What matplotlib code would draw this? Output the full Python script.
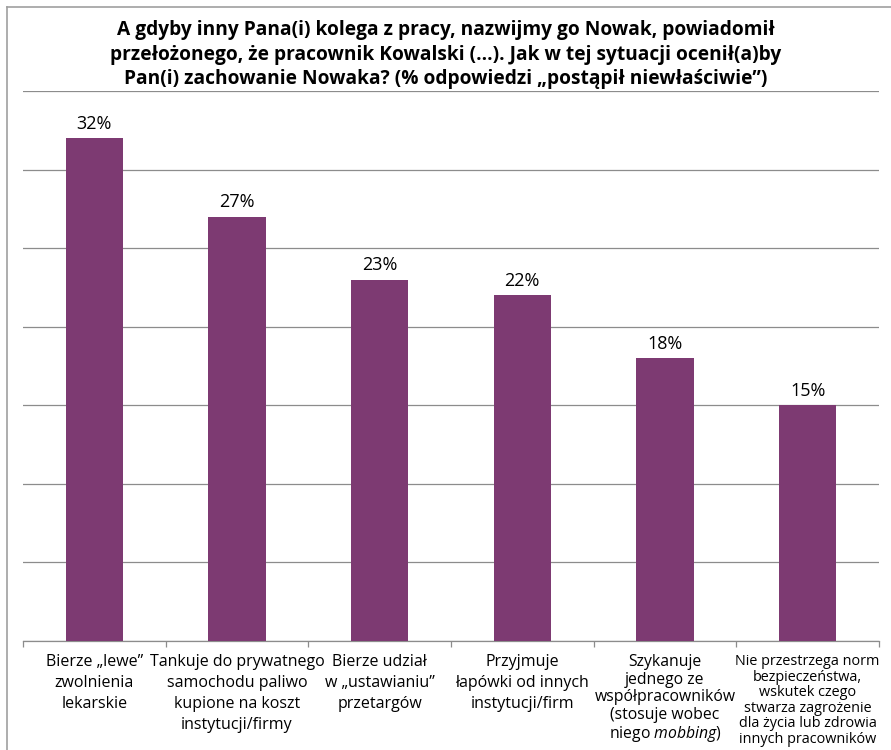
import matplotlib
matplotlib.use("Agg")
import matplotlib.pyplot as plt
from matplotlib.lines import Line2D
import matplotlib.transforms as mtransforms

plt.rcParams['font.family'] = ['Open Sans', 'DejaVu Sans']
plt.rcParams['mathtext.fontset'] = 'custom'
plt.rcParams['mathtext.it'] = 'Open Sans:italic'
plt.rcParams['mathtext.rm'] = 'Open Sans'

# dane
title = ("A gdyby inny Pana(i) kolega z pracy, nazwijmy go Nowak, powiadomił\n"
         "przełożonego, że pracownik Kowalski (...). Jak w tej sytuacji ocenił(a)by\n"
         "Pan(i) zachowanie Nowaka? (% odpowiedzi „postąpił niewłaściwie”)")
categories = [
    "Bierze „lewe”\nzwolnienia\nlekarskie",
    "Tankuje do prywatnego\nsamochodu paliwo\nkupione na koszt\ninstytucji/firmy",
    "Bierze udział\nw „ustawianiu”\nprzetargów",
    "Przyjmuje\nłapówki od innych\ninstytucji/firm",
    "Szykanuje\njednego ze\nwspółpracowników\n(stosuje wobec\nniego $\\mathit{mobbing}$)",
    "Nie przestrzega norm\nbezpieczeństwa,\nwskutek czego\nstwarza zagrożenie\ndla życia lub zdrowia\ninnych pracowników",
]
values = [32, 27, 23, 22, 18, 15]
label_sizes = [11.5, 11.5, 11.5, 11.5, 11.3, 10.4]
label_spacing = [1.4, 1.4, 1.4, 1.4, 1.12, 1.05]

bar_color = "#7D3A72"
grid_color = "#8C8C8C"

fig = plt.figure(figsize=(8.91, 7.5), dpi=100)
ax = fig.add_axes([0.0258, 0.1453, 0.9607, 0.7334])

x = list(range(len(values)))
ax.bar(x, values, width=0.4, color=bar_color, zorder=3)
for xi, v in zip(x, values):
    ax.text(xi, v + 0.35, f"{v}%", ha="center", va="bottom", fontsize=13, color="#000000")

ax.set_xlim(-0.5, len(values) - 0.5)
ax.set_ylim(0, 35)
ax.set_yticks(range(0, 36, 5))
ax.yaxis.grid(True, color=grid_color, linewidth=0.9, zorder=0)
ax.tick_params(axis="y", left=False, labelleft=False)
for s in ["top", "right", "left"]:
    ax.spines[s].set_visible(False)
ax.spines["bottom"].set_color(grid_color)
ax.spines["bottom"].set_linewidth(0.9)

ax.set_xticks([i - 0.5 for i in range(len(values) + 1)])
ax.set_xticklabels([])
ax.tick_params(axis="x", direction="out", length=4, color=grid_color, width=0.9)

trans = mtransforms.blended_transform_factory(ax.transData, ax.transAxes)
for xi, lab, fs, ls in zip(x, categories, label_sizes, label_spacing):
    ax.text(xi, -0.024, lab, transform=trans, ha="center", va="top",
            fontsize=fs, linespacing=ls, color="#000000")

fig.text(0.5, 0.973, title, ha="center", va="top", fontsize=13.8,
         fontweight="bold", linespacing=1.3)

# ramka wykresu
fig.add_artist(Line2D([7 / 891, 1], [1 - 7 / 750, 1 - 7 / 750], color="#A0A0A0", linewidth=1.2))
fig.add_artist(Line2D([7 / 891, 7 / 891], [0, 1 - 7 / 750], color="#A0A0A0", linewidth=1.2))

fig.savefig("out.png", dpi=100)
